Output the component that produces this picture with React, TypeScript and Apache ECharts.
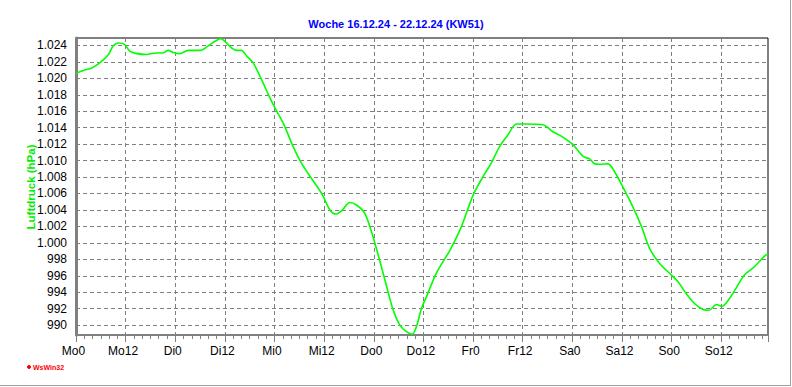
import React, { useEffect, useRef } from "react";
import * as echarts from "echarts";

// Hours since Monday 00:00
const hours = [
  0, 1.8, 3.8, 5.8, 7.8, 9.0, 10.2, 11.8, 13.0, 14.7, 17.1, 18.7, 21.1, 22.3, 23.5,
  25.1, 27.1, 30.0, 32.0, 33.6, 35.0, 36.0, 37.6, 38.8, 40.0, 41.2, 42.8, 44.9, 46.7,
  48.1, 50.1, 52.5, 54.5, 56.9, 59.4, 61.4, 62.8, 64.2, 66.2, 67.8, 69.8, 71.8, 73.4,
  75.1, 76.7, 78.3, 79.9, 81.3, 82.3, 83.5, 84.7, 87.1, 90.4, 93.2, 96.0, 98.4, 100.4,
  102.4, 104.4, 106.5, 108.9, 112.9, 115.3, 117.7, 120.2, 122.6, 124.2, 125.4, 126.6,
  128.6, 130.2, 132.2, 134.6, 136.7, 138.7, 141.1, 143.5, 145.5, 147.5, 149.6, 151.6,
  153.0, 154.8, 156.2, 158.0, 159.6, 161.6, 164.0, 166.7, 167.3,
];

// Luftdruck in hPa
const pressure = [
  1020.6, 1020.95, 1021.25, 1021.9, 1022.85, 1023.95, 1024.3, 1024.1, 1023.3, 1023.0,
  1022.9, 1023.05, 1023.1, 1023.4, 1023.15, 1023.0, 1023.4, 1023.4, 1023.95, 1024.5,
  1024.8, 1024.5, 1023.7, 1023.4, 1023.4, 1022.75, 1021.9, 1019.8, 1017.8, 1016.4,
  1014.55, 1011.7, 1009.7, 1007.85, 1006.0, 1004.0, 1003.5, 1003.9, 1004.9, 1004.6,
  1003.6, 1000.75, 997.9, 994.7, 991.8, 990.0, 989.2, 988.9, 989.8, 992.0, 993.4,
  996.3, 999.1, 1002.0, 1005.8, 1008.05, 1009.7, 1011.7, 1013.1, 1014.45, 1014.45,
  1014.35, 1013.5, 1012.85, 1011.9, 1010.5, 1010.2, 1009.6, 1009.55, 1009.6, 1008.65,
  1006.8, 1004.4, 1002.0, 999.3, 997.5, 996.3, 995.3, 993.85, 992.6, 991.9, 991.8,
  992.5, 992.3, 993.25, 994.5, 996.1, 997.1, 998.5, 998.6,
];

const dayNames = ["Mo", "Di", "Mi", "Do", "Fr", "Sa", "So"];
const yTicks = [
  990, 992, 994, 996, 998, 1000, 1002, 1004, 1006, 1008, 1010, 1012, 1014, 1016, 1018,
  1020, 1022, 1024,
];

const titleText = "Woche 16.12.24 - 22.12.24 (KW51)";
const yName = "Luftdruck (hPa)";
const brand = "WsWin32";

const FONT = "Arial, 'Liberation Sans', sans-serif";

function fmtY(v: number): string {
  if (v >= 1000) {
    const s = String(Math.round(v));
    return s.slice(0, s.length - 3) + "." + s.slice(s.length - 3);
  }
  return String(Math.round(v));
}

export default function App() {
  const ref = useRef<HTMLDivElement>(null);

  useEffect(() => {
    if (!ref.current) return;
    const chart = echarts.init(ref.current, null, { renderer: "svg" });
    const data = hours.map((h, i) => [h, pressure[i]]);
    const grey = "#808080";
    chart.setOption({
      animation: false,
      backgroundColor: "#ffffff",
      grid: {
        left: 76,
        right: 24,
        top: 38,
        bottom: 52,
        show: true,
        borderColor: "#000000",
        borderWidth: 1,
        backgroundColor: "transparent",
      },
      xAxis: {
        type: "value",
        min: 0,
        max: 167.3,
        interval: 12,
        axisLine: { show: true, lineStyle: { color: grey, width: 2 } },
        axisTick: { show: true, length: 7, lineStyle: { color: grey, width: 1 } },
        minorTick: { show: true, splitNumber: 6, length: 4, lineStyle: { color: grey, width: 1 } },
        splitLine: { show: true, lineStyle: { color: grey, type: [4, 3], width: 1 } },
        axisLabel: {
          color: "#000",
          fontFamily: FONT,
          fontSize: 12,
          margin: 10,
          padding: [0, 5, 0, 0],
          formatter: (v: number) => {
            if (Math.abs(v % 12) > 0.001) return "";
            const d = Math.floor(v / 24);
            return dayNames[d] + String(v - d * 24);
          },
        },
      },
      yAxis: {
        type: "value",
        min: 988.8,
        max: 1024.9,
        axisLine: { show: true, lineStyle: { color: grey, width: 3 } },
        axisTick: { show: false, customValues: yTicks },
        splitLine: { show: true, lineStyle: { color: grey, type: [4, 3], width: 1 } },
        axisLabel: {
          customValues: yTicks,
          color: "#000",
          fontFamily: FONT,
          fontSize: 12,
          margin: 9,
          formatter: (v: number) => fmtY(v),
        },
      },
      graphic: [
        {
          type: "text",
          x: 396,
          y: 24,
          style: {
            text: titleText,
            fill: "#0000ff",
            font: "bold 11px " + FONT,
            align: "center",
            verticalAlign: "middle",
          },
        },
        {
          type: "text",
          x: 31,
          y: 187,
          rotation: Math.PI / 2,
          style: {
            text: yName,
            fill: "#00ee00",
            font: "bold 11.5px " + FONT,
            align: "center",
            verticalAlign: "middle",
          },
        },
        {
          type: "circle",
          shape: { cx: 29, cy: 367, r: 1.6 },
          style: { fill: "#ff0000", stroke: "#ff0000", lineWidth: 1 },
        },
        {
          type: "text",
          x: 33,
          y: 367,
          style: {
            text: brand,
            fill: "#ff0000",
            font: "bold 7px " + FONT,
            align: "left",
            verticalAlign: "middle",
          },
        },
        {
          type: "line",
          shape: { x1: 0, y1: 385.5, x2: 791, y2: 385.5 },
          style: { stroke: "#a0a0a0", lineWidth: 1 },
        },
        {
          type: "line",
          shape: { x1: 790.5, y1: 0, x2: 790.5, y2: 386 },
          style: { stroke: "#a0a0a0", lineWidth: 1 },
        },
      ],
      series: [
        {
          type: "line",
          data,
          showSymbol: false,
          smooth: 0.3,
          lineStyle: { color: "#00ff00", width: 1.6 },
          z: 3,
        },
      ],
    });
    return () => chart.dispose();
  }, []);

  return (
    <div
      ref={ref}
      style={{ position: "absolute", left: 0, top: 0, width: 792, height: 387 }}
    />
  );
}
